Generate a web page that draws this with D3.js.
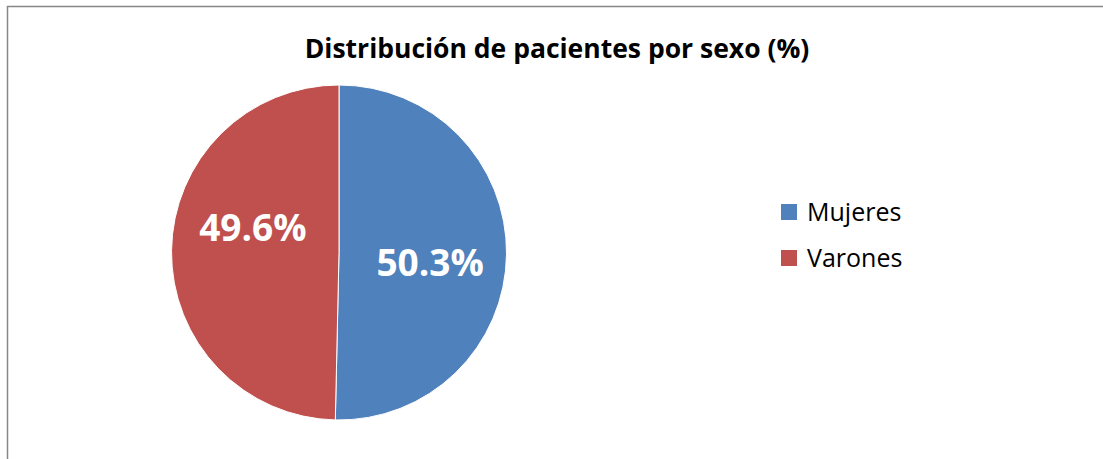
<html>

<head>
    <script src="https://cdn.jsdelivr.net/npm/d3@7"></script>
    <style>
        body { margin: 0; background: #fff; }
        text { font-family: "Open Sans", sans-serif; }
    </style>
</head>

<body>
    <script>

        var categories = ['Mujeres', 'Varones'];
        var values = [50.3, 49.6];
        var colors = ['#4F81BD', '#C0504D'];

        var dataset = categories.map((c, i) => { return { name: c, percent: values[i] } });

        var w = 1103, h = 459;
        var cx = 339, cy = 252.5;
        var outerRadius = 167.5;

        var svg = d3.select('body')
            .append('svg')
            .attr('width', w)
            .attr('height', h)

        // chart frame (cropped on the right and bottom like the source)
        svg.append('path')
            .attr('d', 'M7.5,' + h + 'V6.5H' + w)
            .attr('fill', 'none')
            .attr('stroke', '#878787')
            .attr('stroke-width', 1.5)

        svg.append('text')
            .attr('x', 557)
            .attr('y', 58)
            .attr('text-anchor', 'middle')
            .attr('font-size', 26.5)
            .attr('font-weight', 'bold')
            .attr('fill', '#000')
            .text('Distribución de pacientes por sexo (%)')

        var pie = d3.pie()
            .value((d) => { return d.percent })
            .sort(null)

        var color = d3.scaleOrdinal().domain(categories).range(colors);

        var arc = d3.arc()
            .outerRadius(outerRadius)
            .innerRadius(0);

        var labelArc = d3.arc()
            .outerRadius(outerRadius * 1.1)
            .innerRadius(0);

        var g = svg.append('g')
            .attr('transform', 'translate(' + cx + ',' + cy + ')');

        g.selectAll('path')
            .data(pie(dataset))
            .enter()
            .append('path')
            .attr('d', arc)
            .attr('fill', (d) => { return color(d.data.name); })
            .attr('stroke', '#fff')
            .attr('stroke-width', 1)

        // excel "best fit" label nudges
        var labelDx = [-1, 6];
        var labelDy = [22, -11];

        g.selectAll('text')
            .data(pie(dataset))
            .enter()
            .append('text')
            .attr('x', (d) => { return labelArc.centroid(d)[0] })
            .attr('y', (d) => { return labelArc.centroid(d)[1] })
            .attr('dx', (d, i) => { return labelDx[i] })
            .attr('dy', (d, i) => { return labelDy[i] })
            .attr('text-anchor', 'middle')
            .attr('font-size', 37)
            .attr('font-weight', 'bold')
            .attr('fill', 'white')
            .text((d) => { return d.data.percent.toFixed(1) + '%' })

        var legend = svg.append('g')
            .selectAll('g')
            .data(categories)
            .enter()
            .append('g')
            .attr('transform', (d, i) => { return 'translate(781,' + (204 + i * 46) + ')' })

        legend.append('rect')
            .attr('width', 16)
            .attr('height', 16)
            .attr('fill', (d) => { return color(d) })

        legend.append('text')
            .attr('x', 26)
            .attr('y', 16.5)
            .attr('font-size', 25)
            .attr('fill', '#000')
            .text((d) => { return d })

    </script>

</body>

</html>
